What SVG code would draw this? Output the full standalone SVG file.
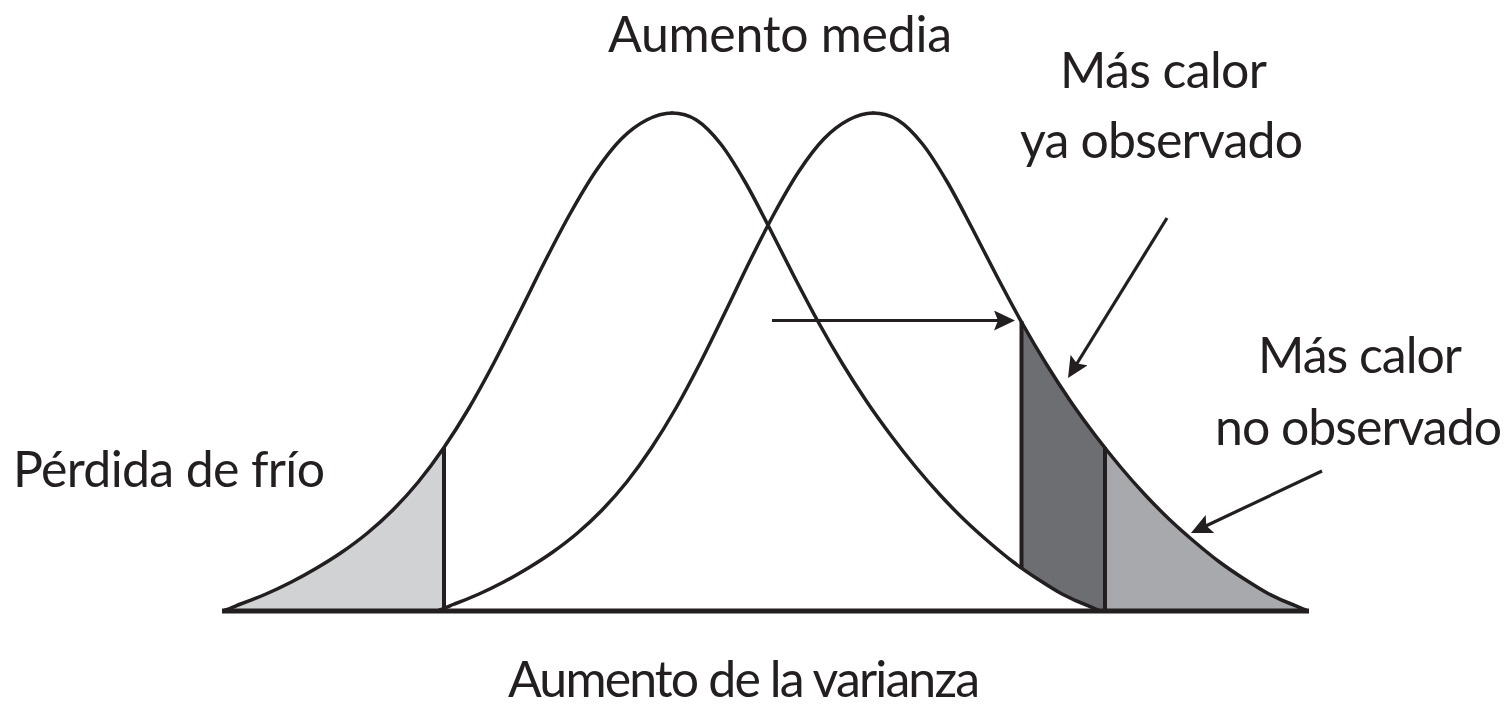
<svg xmlns="http://www.w3.org/2000/svg" width="1508" height="708" viewBox="0 0 1508 708">
<style>
  .lbl{font-family:Lato,"Open Sans","Liberation Sans",sans-serif;font-size:50px;fill:#231f20;}
  .curve{fill:none;stroke:#231f20;stroke-width:3.5;stroke-linecap:round;}
  .edge{stroke:#231f20;stroke-width:4;fill:none;}
  .base{stroke:#231f20;stroke-width:5;fill:none;}
  .arrow{stroke:#231f20;stroke-width:3.2;fill:none;marker-end:url(#ah);}
</style>
<defs>
  <path id="Lh" vector-effect="non-scaling-stroke" d="M0,-497 C8.33,-497 16.67,-494.33 25,-490 C33.33,-485.67 41.67,-479.5 50,-471 C58.33,-462.5 66.67,-451.33 75,-439 C83.33,-426.67 91.67,-412 100,-397 C108.33,-382 116.67,-365.5 125,-349 C133.33,-332.5 141.67,-314.83 150,-298 C158.33,-281.17 166.67,-264 175,-248 C183.33,-232 191.67,-216.33 200,-202 C208.33,-187.67 216.67,-174.33 225,-162 C233.33,-149.67 241.67,-138.33 250,-128 C258.33,-117.67 266.67,-108.5 275,-100 C283.33,-91.5 291.67,-84 300,-77 C308.33,-70 316.67,-63.83 325,-58 C333.33,-52.17 341.67,-47 350,-42 C358.33,-37 366.67,-32.33 375,-28 C383.33,-23.67 391.67,-19.67 400,-16 C408.33,-12.33 416.67,-9 425,-6 C430,-4 435,-1.5 440,0"/>
  <path id="Rh" vector-effect="non-scaling-stroke" d="M0,-497 C8.33,-497 16.67,-495.17 25,-490 C33.33,-484.83 41.67,-476.33 50,-466 C58.33,-455.67 66.67,-442 75,-428 C83.33,-414 91.67,-397.67 100,-382 C108.33,-366.33 116.67,-349.67 125,-334 C133.33,-318.33 141.67,-302.67 150,-288 C158.33,-273.33 166.67,-259.33 175,-246 C183.33,-232.67 191.67,-220 200,-208 C208.33,-196 216.67,-184.83 225,-174 C233.33,-163.17 241.67,-152.83 250,-143 C258.33,-133.17 266.67,-123.83 275,-115 C283.33,-106.17 291.67,-97.83 300,-90 C308.33,-82.17 316.67,-75 325,-68 C333.33,-61 341.67,-54.17 350,-48 C358.33,-41.83 366.67,-36.33 375,-31 C383.33,-25.67 391.67,-20.33 400,-16 C408.33,-11.67 416.67,-8 425,-5 C429,-3.5 433,-1.2 437,0"/>
  <path id="La" d="M0,-497 C8.33,-497 16.67,-494.33 25,-490 C33.33,-485.67 41.67,-479.5 50,-471 C58.33,-462.5 66.67,-451.33 75,-439 C83.33,-426.67 91.67,-412 100,-397 C108.33,-382 116.67,-365.5 125,-349 C133.33,-332.5 141.67,-314.83 150,-298 C158.33,-281.17 166.67,-264 175,-248 C183.33,-232 191.67,-216.33 200,-202 C208.33,-187.67 216.67,-174.33 225,-162 C233.33,-149.67 241.67,-138.33 250,-128 C258.33,-117.67 266.67,-108.5 275,-100 C283.33,-91.5 291.67,-84 300,-77 C308.33,-70 316.67,-63.83 325,-58 C333.33,-52.17 341.67,-47 350,-42 C358.33,-37 366.67,-32.33 375,-28 C383.33,-23.67 391.67,-19.67 400,-16 C408.33,-12.33 416.67,-9 425,-6 C430,-4 435,-1.5 440,0 L0,0 Z"/>
  <path id="Ra" d="M0,-497 C8.33,-497 16.67,-495.17 25,-490 C33.33,-484.83 41.67,-476.33 50,-466 C58.33,-455.67 66.67,-442 75,-428 C83.33,-414 91.67,-397.67 100,-382 C108.33,-366.33 116.67,-349.67 125,-334 C133.33,-318.33 141.67,-302.67 150,-288 C158.33,-273.33 166.67,-259.33 175,-246 C183.33,-232.67 191.67,-220 200,-208 C208.33,-196 216.67,-184.83 225,-174 C233.33,-163.17 241.67,-152.83 250,-143 C258.33,-133.17 266.67,-123.83 275,-115 C283.33,-106.17 291.67,-97.83 300,-90 C308.33,-82.17 316.67,-75 325,-68 C333.33,-61 341.67,-54.17 350,-48 C358.33,-41.83 366.67,-36.33 375,-31 C383.33,-25.67 391.67,-20.33 400,-16 C408.33,-11.67 416.67,-8 425,-5 C429,-3.5 433,-1.2 437,0 L0,0 Z"/>
  <clipPath id="cL"><rect x="200" y="0" width="244" height="620"/></clipPath>
  <clipPath id="cD"><rect x="1021" y="0" width="84" height="620"/></clipPath>
  <clipPath id="cW"><rect x="1010" y="0" width="100" height="620"/></clipPath>
  <clipPath id="cM"><rect x="1105" y="0" width="220" height="620"/></clipPath>
  <marker id="ah" markerUnits="userSpaceOnUse" markerWidth="21" markerHeight="20" viewBox="0 0 21 20" refX="14" refY="10" orient="auto">
    <path d="M0,0 L21,10 L0,20 L4,10 Z" fill="#231f20"/>
  </marker>
</defs>

<g id="shading">
  <g clip-path="url(#cL)"><use href="#La" transform="translate(672,610) scale(-1.015,1)" fill="#d1d2d4"/></g>
  <g clip-path="url(#cD)"><use href="#Ra" transform="translate(873,610) scale(0.99,1)" fill="#6d6e71"/></g>
  <g clip-path="url(#cW)"><use href="#Ra" transform="translate(672,610) scale(0.975,1)" fill="#ffffff"/></g>
  <g clip-path="url(#cM)"><use href="#Ra" transform="translate(873,610) scale(0.99,1)" fill="#a7a9ac"/></g>
</g>

<g id="dividers">
  <line class="edge" x1="444" y1="447" x2="444" y2="611"/>
  <line class="edge" x1="1021.5" y1="321" x2="1021.5" y2="569"/>
  <line class="edge" x1="1105" y1="447" x2="1105" y2="611"/>
</g>

<g id="curve-left">
  <use href="#Lh" class="curve" transform="translate(672,610) scale(-1.015,1)"/>
  <use href="#Rh" class="curve" transform="translate(672,610) scale(0.975,1)"/>
</g>
<g id="curve-right">
  <use href="#Lh" class="curve" transform="translate(873,610) scale(-0.985,1)"/>
  <use href="#Rh" class="curve" transform="translate(873,610) scale(0.99,1)"/>
</g>

<g id="baseline">
  <line class="base" x1="222" y1="611" x2="1309" y2="611"/>
</g>

<g id="connectors">
  <line class="arrow" x1="772" y1="320.5" x2="1008" y2="320.5"/>
  <line class="arrow" x1="1167" y1="218" x2="1071.7" y2="372"/>
  <line class="arrow" x1="1322" y1="471" x2="1197.3" y2="530"/>
</g>

<g id="label-aumento-media"><text class="lbl" x="608" y="52" textLength="344">Aumento media</text></g>
<g id="label-ya-observado">
  <text class="lbl" x="1060" y="88" textLength="207">Más calor</text>
  <text class="lbl" x="1020" y="158" textLength="283">ya observado</text>
</g>
<g id="label-no-observado">
  <text class="lbl" x="1258" y="373" textLength="204">Más calor</text>
  <text class="lbl" x="1215" y="445" textLength="287">no observado</text>
</g>
<g id="label-perdida"><text class="lbl" x="13" y="487" textLength="312">Pérdida de frío</text></g>
<g id="label-varianza"><text class="lbl" x="508" y="697" textLength="472">Aumento de la varianza</text></g>
</svg>
